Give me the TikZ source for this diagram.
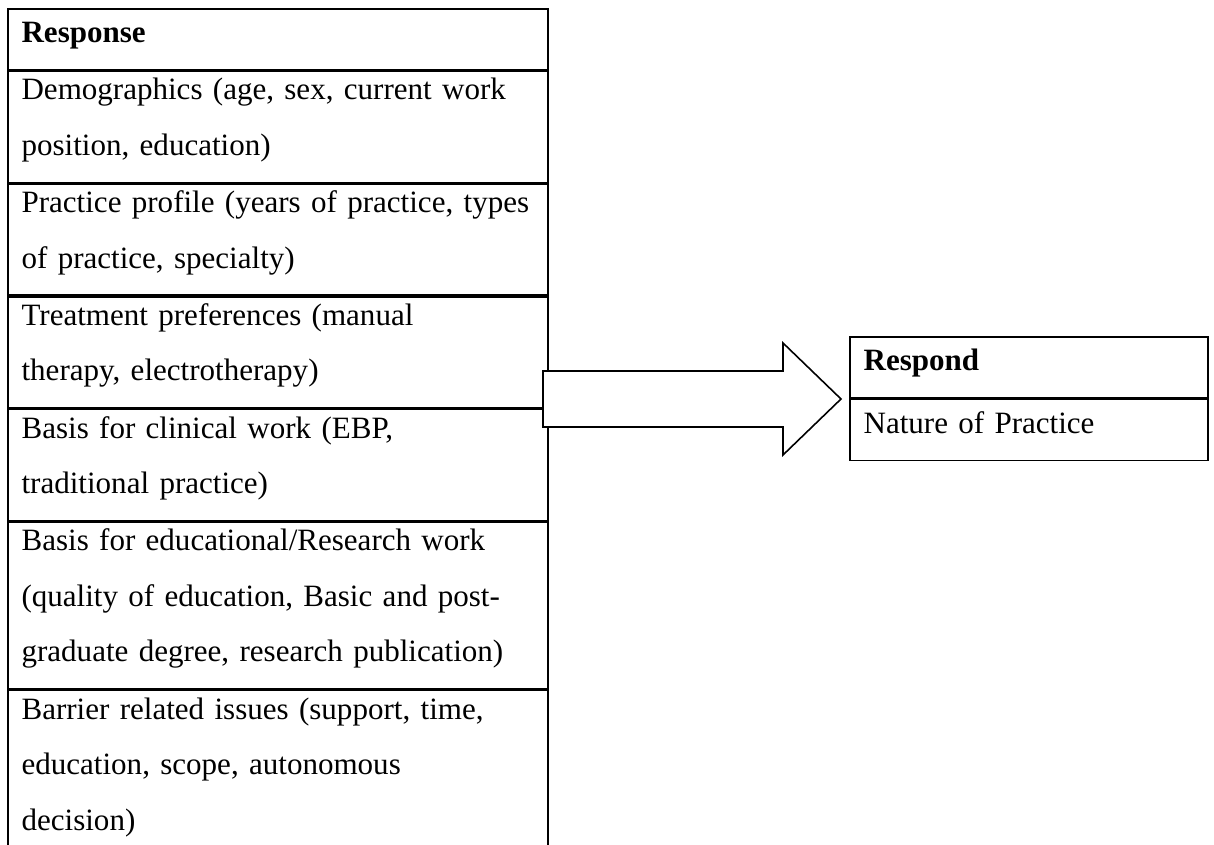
\documentclass[tikz,border=0pt]{standalone}
\usepackage{fontspec}
\setmainfont{Liberation Serif}
\usetikzlibrary{positioning}
\newcommand{\rowstrut}[2]{\rule[-#2]{0pt}{\dimexpr#1+#2\relax}}
\tikzset{
  cell/.style   ={draw, line width=0.6pt, text width=193.2pt, inner xsep=5.2pt, inner ysep=0pt, align=left,
                  font=\fontsize{11.7}{20.95}\selectfont,
                  execute at begin node=\rowstrut{10.75pt}{10.2pt}, execute at end node=\rowstrut{10.75pt}{10.2pt}},
  hcell/.style  ={cell, font=\fontsize{11.7}{20.95}\selectfont\bfseries,
                  execute at begin node=\rowstrut{12.8pt}{10.2pt}, execute at end node=\rowstrut{12.8pt}{10.2pt}},
  rcell/.style  ={cell, text width=124.6pt},
  rhcell/.style ={hcell, text width=124.6pt},
  rlast/.style  ={rcell, execute at begin node=\rowstrut{12.8pt}{8.7pt}, execute at end node=\rowstrut{12.8pt}{8.7pt}},
  flowarrow/.style={draw, line width=0.6pt, fill=white, line join=miter},
}

\begin{document}
\begin{tikzpicture}[x=0.377pt, y=-0.377pt]
  \useasboundingbox (0,0) rectangle (1214,845);

  % response table
  \node[hcell, anchor=north west] (resp) at (7,8) {Response};
  \node[cell, below=0pt of resp]   (demo)  {Demographics (age, sex, current work\\position, education)};
  \node[cell, below=0pt of demo]   (prof)  {Practice profile (years of practice, types\\of practice, specialty)};
  \node[cell, below=0pt of prof]   (treat) {Treatment preferences (manual\\therapy, electrotherapy)};
  \node[cell, below=0pt of treat]  (clin)  {Basis for clinical work (EBP,\\traditional practice)};
  \node[cell, below=0pt of clin]   (edu)   {Basis for educational/Research work\\(quality of education, Basic and post-\\graduate degree, research publication)};
  \node[cell, below=0pt of edu]    (barr)  {Barrier related issues (support, time,\\education, scope, autonomous\\decision)};

  % block arrow
  \draw[flowarrow] (543,371) -- (783,371) -- (783,343) -- (841,399) -- (783,455) -- (783,427) -- (543,427) -- cycle;

  % respond table
  \node[rhcell, anchor=north west] (respd) at (849,336) {Respond};
  \node[rlast, below=0pt of respd] (nature) {Nature of Practice};
\end{tikzpicture}
\end{document}
